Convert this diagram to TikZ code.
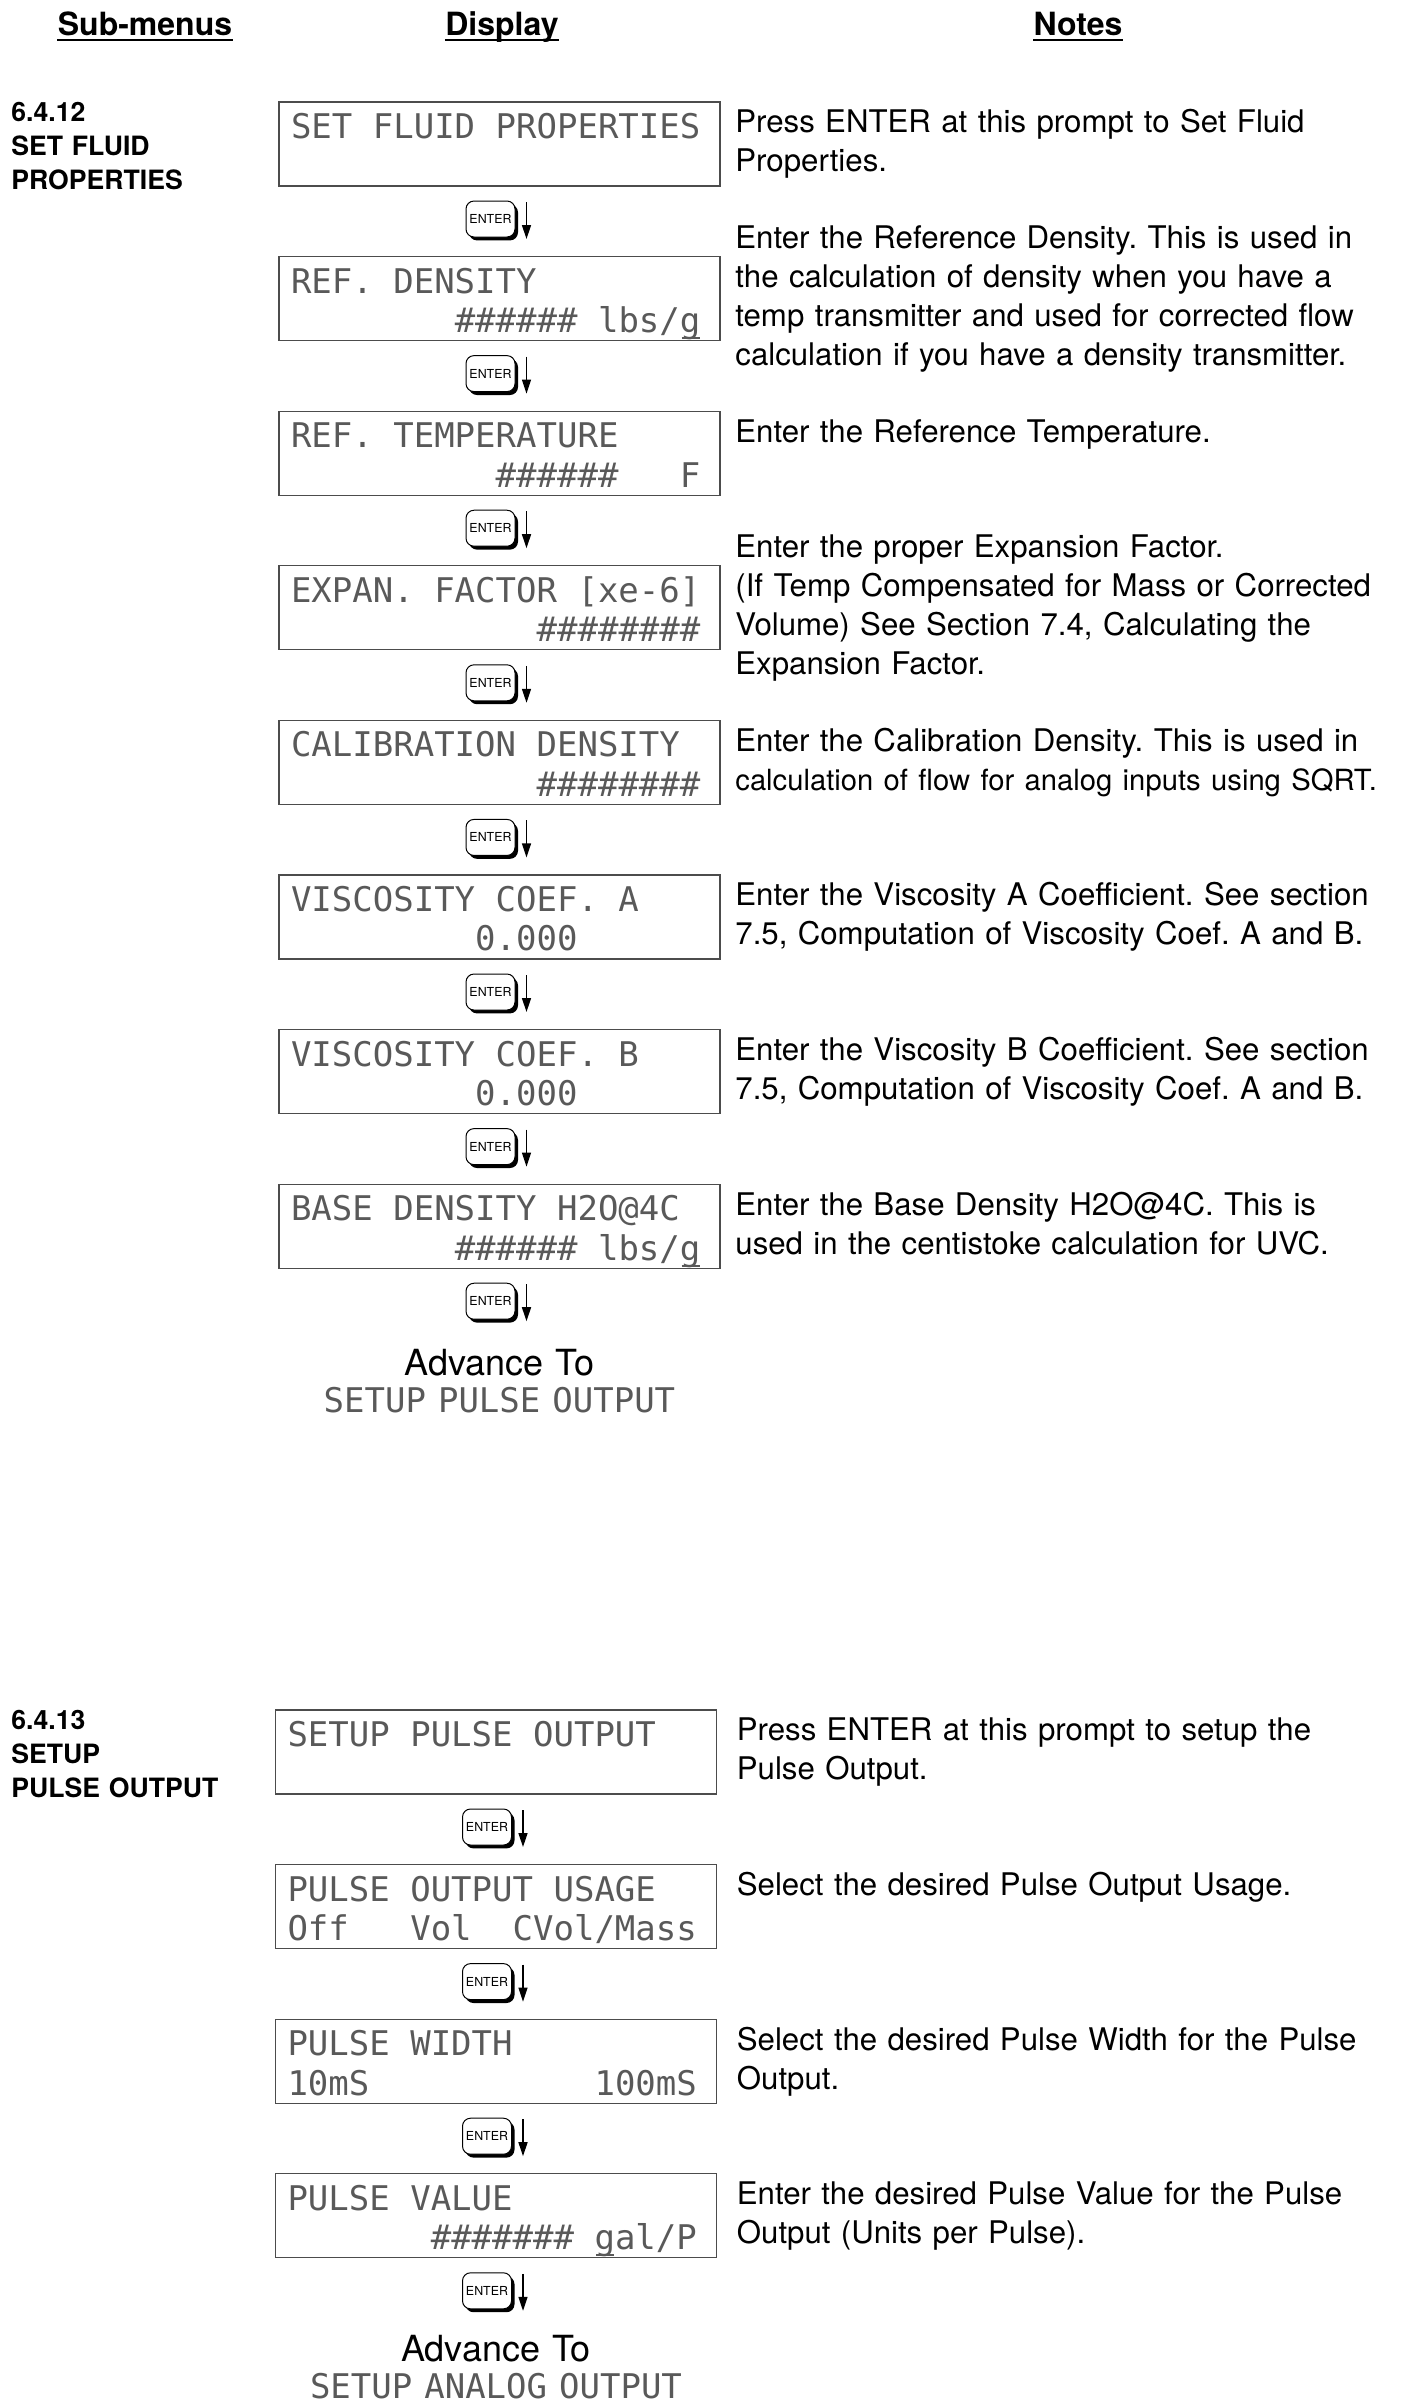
\documentclass[tikz,border=0pt]{standalone}
\usepackage{fontspec}
\setmainfont{TeX Gyre Heros}
\newfontfamily\lcdfont{DejaVu Sans Mono}
\usetikzlibrary{arrows.meta,positioning,shadows}

% two display lines of the LCD, 20 cells each
\newcommand{\lcd}[2]{\vbox to 42pt{%
  \hbox to 220.5pt{\vrule height18.2pt depth0pt width0pt\hskip6pt\smash{#1}\hfil}%
  \nointerlineskip
  \hbox to 220.5pt{\vrule height19.7pt depth0pt width0pt\hskip6pt\smash{#2}\hfil}%
  \vfil}}
% cursor under a character
\newcommand{\curs}[1]{\rlap{\kern0.8pt\rule[-3.3pt]{9pt}{0.9pt}}#1}

\begin{document}
\begin{tikzpicture}[x=0.5pt, y=-0.5pt,
    colhead/.style={anchor=base, inner sep=0pt, font=\bfseries\fontsize{16}{18}\selectfont},
    secthead/.style={anchor=base west, inner sep=0pt, text width=150pt, align=left,
      font=\bfseries\fontsize{13.3}{17}\selectfont},
    lcdbox/.style={draw=black!70, line width=0.6pt, inner sep=0pt, outer sep=0pt, text=black!65,
      font=\lcdfont\fontsize{17}{19.5}\selectfont\frenchspacing},
    enterkey/.style={draw, line width=0.5pt, fill=white, rounded corners=4pt,
      minimum width=24.5pt, minimum height=18pt, inner sep=0pt, outer sep=0pt,
      font=\fontsize{6.2}{7}\selectfont,
      drop shadow={fill=black, opacity=1, shadow xshift=1.5pt, shadow yshift=-1.7pt}},
    enterarrow/.style={line width=0.7pt, -{Triangle[length=7pt,width=4.5pt]}},
    note/.style={inner sep=0pt, text width=360pt, align=left,
      font=\fontsize{15.6}{19.5}\selectfont\frenchspacing},
    advance/.style={inner sep=0pt, text width=250pt, align=center,
      font=\fontsize{18}{18.5}\selectfont}]
  \useasboundingbox (0,0) rectangle (1405,2405);

  % Column heads
  \node[colhead] (hsub) at (145,35.3) {Sub-menus};
  \node[colhead] (hdisp) at (502,35.3) {Display};
  \node[colhead] (hnotes) at (1078,35.3) {Notes};
  \draw[line width=1.1pt] ([yshift=-2.5pt]hsub.base west) -- ([yshift=-2.5pt]hsub.base east);
  \draw[line width=1.1pt] ([yshift=-2.5pt]hdisp.base west) -- ([yshift=-2.5pt]hdisp.base east);
  \draw[line width=1.1pt] ([yshift=-2.5pt]hnotes.base west) -- ([yshift=-2.5pt]hnotes.base east);

  % 6.4.12 Set fluid properties
  \node[secthead] (s12) at (11,121) {6.4.12\\SET FLUID\\PROPERTIES};

  \node[lcdbox] (fluid) at (499.5,144) {\lcd{SET~FLUID~PROPERTIES}{}};
  \node[enterkey, below=7.5pt of fluid, xshift=-4.5pt] (k1) {ENTER};
  \node[lcdbox, below=9.8pt of k1, xshift=4.5pt] (refdens)
    {\lcd{REF.~DENSITY}{~~~~~~~~\#\#\#\#\#\#~lbs/\curs{g}}};
  \node[enterkey, below=7.5pt of refdens, xshift=-4.5pt] (k2) {ENTER};
  \node[lcdbox, below=9.8pt of k2, xshift=4.5pt] (reftemp)
    {\lcd{REF.~TEMPERATURE}{~~~~~~~~~~\#\#\#\#\#\#~~~F}};
  \node[enterkey, below=7.5pt of reftemp, xshift=-4.5pt] (k3) {ENTER};
  \node[lcdbox, below=9.8pt of k3, xshift=4.5pt] (expan)
    {\lcd{EXPAN.~FACTOR~[xe-6]}{~~~~~~~~~~~~\#\#\#\#\#\#\#\#}};
  \node[enterkey, below=7.5pt of expan, xshift=-4.5pt] (k4) {ENTER};
  \node[lcdbox, below=9.8pt of k4, xshift=4.5pt] (caldens)
    {\lcd{CALIBRATION~DENSITY}{~~~~~~~~~~~~\#\#\#\#\#\#\#\#}};
  \node[enterkey, below=7.5pt of caldens, xshift=-4.5pt] (k5) {ENTER};
  \node[lcdbox, below=9.8pt of k5, xshift=4.5pt] (visca)
    {\lcd{VISCOSITY~COEF.~A}{~~~~~~~~~0.000}};
  \node[enterkey, below=7.5pt of visca, xshift=-4.5pt] (k6) {ENTER};
  \node[lcdbox, below=9.8pt of k6, xshift=4.5pt] (viscb)
    {\lcd{VISCOSITY~COEF.~B}{~~~~~~~~~0.000}};
  \node[enterkey, below=7.5pt of viscb, xshift=-4.5pt] (k7) {ENTER};
  \node[lcdbox, below=9.8pt of k7, xshift=4.5pt] (basedens)
    {\lcd{BASE~DENSITY~H2O@4C}{~~~~~~~~\#\#\#\#\#\#~lbs/\curs{g}}};
  \node[enterkey, below=7.5pt of basedens, xshift=-4.5pt] (k8) {ENTER};
  \node[advance, below=28.35pt of k8, anchor=base, xshift=4.5pt] (adv1)
    {Advance To\\{\lcdfont\fontsize{17}{18.5}\selectfont\color{black!65}SETUP PULSE OUTPUT}};

  % Notes
  \node[note, right=7.5pt of fluid.north east, anchor=base west, yshift=-15.4pt] (nfluid)
    {Press ENTER at this prompt to Set Fluid\\Properties.};
  \node[note, right=7.5pt of refdens.north east, anchor=base west, yshift=4.1pt] (nrefdens)
    {Enter the Reference Density. This is used in\\the calculation of density when you have a\\temp transmitter and used for corrected flow\\calculation if you have a density transmitter.};
  \node[note, right=7.5pt of reftemp.north east, anchor=base west, yshift=-15.4pt] (nreftemp)
    {Enter the Reference Temperature.};
  \node[note, right=7.5pt of expan.north east, anchor=base west, yshift=4.1pt] (nexpan)
    {Enter the proper Expansion Factor.\\(If Temp Compensated for Mass or Corrected\\Volume) See Section 7.4, Calculating the\\Expansion Factor.};
  \node[note, right=7.5pt of caldens.north east, anchor=base west, yshift=-15.4pt] (ncaldens)
    {Enter the Calibration Density. This is used in\\{\fontsize{14.6}{19.5}\selectfont calculation of flow for analog inputs using SQRT.}};
  \node[note, right=7.5pt of visca.north east, anchor=base west, yshift=-15.4pt] (nvisca)
    {Enter the Viscosity A Coefficient. See section\\7.5, Computation of Viscosity Coef. A and B.};
  \node[note, right=7.5pt of viscb.north east, anchor=base west, yshift=-15.4pt] (nviscb)
    {Enter the Viscosity B Coefficient. See section\\7.5, Computation of Viscosity Coef. A and B.};
  \node[note, right=7.5pt of basedens.north east, anchor=base west, yshift=-15.4pt] (nbasedens)
    {Enter the Base Density H2O@4C. This is\\used in the centistoke calculation for UVC.};

  % 6.4.13 Setup pulse output
  \node[secthead] (s13) at (11,1729) {6.4.13\\SETUP\\PULSE OUTPUT};

  \node[lcdbox] (pulse) at (496,1752) {\lcd{SETUP~PULSE~OUTPUT}{}};
  \node[enterkey, below=7.5pt of pulse, xshift=-4.5pt] (kp1) {ENTER};
  \node[lcdbox, below=9.8pt of kp1, xshift=4.5pt] (usage)
    {\lcd{PULSE~OUTPUT~USAGE}{Off~~~Vol~~CVol/Mass}};
  \node[enterkey, below=7.5pt of usage, xshift=-4.5pt] (kp2) {ENTER};
  \node[lcdbox, below=9.8pt of kp2, xshift=4.5pt] (width)
    {\lcd{PULSE~WIDTH}{10mS~~~~~~~~~~~100mS}};
  \node[enterkey, below=7.5pt of width, xshift=-4.5pt] (kp3) {ENTER};
  \node[lcdbox, below=9.8pt of kp3, xshift=4.5pt] (value)
    {\lcd{PULSE~VALUE}{~~~~~~~\#\#\#\#\#\#\#~\curs{g}al/P}};
  \node[enterkey, below=7.5pt of value, xshift=-4.5pt] (kp4) {ENTER};
  \node[advance, below=26.5pt of kp4, anchor=base, xshift=4.5pt] (adv2)
    {Advance To\\{\lcdfont\fontsize{17}{18.5}\selectfont\color{black!65}SETUP ANALOG OUTPUT}};

  \node[note, right=10pt of pulse.north east, anchor=base west, yshift=-15.4pt] (npulse)
    {Press ENTER at this prompt to setup the\\Pulse Output.};
  \node[note, right=10pt of usage.north east, anchor=base west, yshift=-15.4pt] (nusage)
    {Select the desired Pulse Output Usage.};
  \node[note, right=10pt of width.north east, anchor=base west, yshift=-15.4pt] (nwidth)
    {Select the desired Pulse Width for the Pulse\\Output.};
  \node[note, right=10pt of value.north east, anchor=base west, yshift=-15.4pt] (nvalue)
    {Enter the desired Pulse Value for the Pulse\\Output (Units per Pulse).};

  % Enter arrows
  \draw[enterarrow] ([xshift=5.75pt,yshift=-0.5pt]k1.north east) -- ([xshift=5.75pt,yshift=-1pt]k1.south east);
  \draw[enterarrow] ([xshift=5.75pt,yshift=-0.5pt]k2.north east) -- ([xshift=5.75pt,yshift=-1pt]k2.south east);
  \draw[enterarrow] ([xshift=5.75pt,yshift=-0.5pt]k3.north east) -- ([xshift=5.75pt,yshift=-1pt]k3.south east);
  \draw[enterarrow] ([xshift=5.75pt,yshift=-0.5pt]k4.north east) -- ([xshift=5.75pt,yshift=-1pt]k4.south east);
  \draw[enterarrow] ([xshift=5.75pt,yshift=-0.5pt]k5.north east) -- ([xshift=5.75pt,yshift=-1pt]k5.south east);
  \draw[enterarrow] ([xshift=5.75pt,yshift=-0.5pt]k6.north east) -- ([xshift=5.75pt,yshift=-1pt]k6.south east);
  \draw[enterarrow] ([xshift=5.75pt,yshift=-0.5pt]k7.north east) -- ([xshift=5.75pt,yshift=-1pt]k7.south east);
  \draw[enterarrow] ([xshift=5.75pt,yshift=-0.5pt]k8.north east) -- ([xshift=5.75pt,yshift=-1pt]k8.south east);
  \draw[enterarrow] ([xshift=5.75pt,yshift=-0.5pt]kp1.north east) -- ([xshift=5.75pt,yshift=-1pt]kp1.south east);
  \draw[enterarrow] ([xshift=5.75pt,yshift=-0.5pt]kp2.north east) -- ([xshift=5.75pt,yshift=-1pt]kp2.south east);
  \draw[enterarrow] ([xshift=5.75pt,yshift=-0.5pt]kp3.north east) -- ([xshift=5.75pt,yshift=-1pt]kp3.south east);
  \draw[enterarrow] ([xshift=5.75pt,yshift=-0.5pt]kp4.north east) -- ([xshift=5.75pt,yshift=-1pt]kp4.south east);
\end{tikzpicture}
\end{document}
